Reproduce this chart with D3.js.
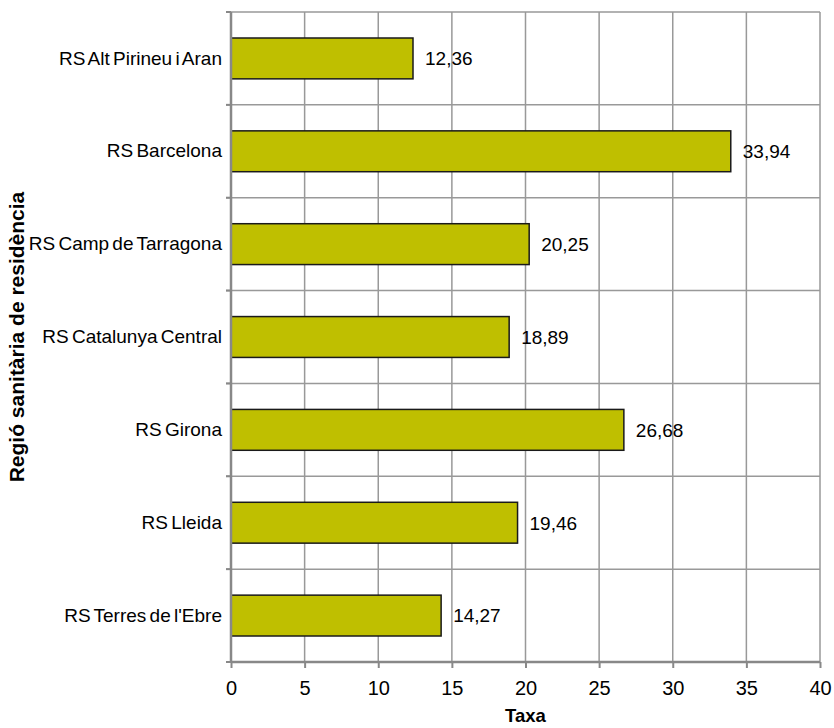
<!DOCTYPE html>
<html><head><meta charset="utf-8">
<script src="https://cdn.jsdelivr.net/npm/d3@7"></script>
<style>body{margin:0;background:#fff}svg{display:block}text{font-family:"Liberation Sans",Arial,sans-serif}</style>
</head><body>
<svg id="c" width="834" height="728"></svg>
<script>
const categories = ["RS Alt Pirineu i Aran","RS Barcelona","RS Camp de Tarragona","RS Catalunya Central","RS Girona","RS Lleida","RS Terres de l'Ebre"];
const values = [12.36,33.94,20.25,18.89,26.68,19.46,14.27];
const xTicks = [0,5,10,15,20,25,30,35,40];
const xTitle = "Taxa";
const yTitle = "Regió sanitària de residència";

const svg = d3.select("#c");
const m = {l:231, r:820, t:12, b:662};
const x = d3.scaleLinear().domain([0,40]).range([m.l,m.r]);
const y = d3.scaleBand().domain(categories).range([m.t,m.b]).paddingInner(0.56).paddingOuter(0.28);
const fmt = v => d3.format(".2f")(v).replace(".", ",");
const grid = "#999";
const ff = "Liberation Sans, Arial, sans-serif";

// vertical gridlines
svg.append("g").selectAll("line").data(xTicks.slice(1)).join("line")
  .attr("x1",d=>x(d)).attr("x2",d=>x(d)).attr("y1",m.t).attr("y2",m.b)
  .attr("stroke",grid).attr("stroke-width",1.5);
// horizontal gridlines at band boundaries
const bounds = d3.range(categories.length+1).map(i => m.t + i*(m.b-m.t)/categories.length);
svg.append("g").selectAll("line").data(bounds.slice(0,-1)).join("line")
  .attr("x1",m.l-5).attr("x2",m.r).attr("y1",d=>d).attr("y2",d=>d)
  .attr("stroke",grid).attr("stroke-width",1.5);

// bars
svg.append("g").selectAll("rect").data(values).join("rect")
  .attr("x",x(0)).attr("y",(d,i)=>y(categories[i]))
  .attr("width",d=>x(d)-x(0)).attr("height",y.bandwidth())
  .attr("fill","#bfbf00").attr("stroke","#1a1a1a").attr("stroke-width",1.5);

// value labels
svg.append("g").selectAll("text").data(values).join("text")
  .attr("x",d=>x(d)+12).attr("y",(d,i)=>y(categories[i])+y.bandwidth()/2)
  .attr("dy","0.36em").attr("font-size",19).attr("fill","#000").text(d=>fmt(d));

// x axis
const xa = svg.append("g").attr("transform",`translate(0,${m.b})`)
  .call(d3.axisBottom(x).tickValues(xTicks).tickSize(6).tickPadding(13).tickFormat(d=>d));
xa.select(".domain").attr("stroke","#888").attr("stroke-width",2.5).attr("d",`M${m.l},0H${m.r}`);
xa.selectAll(".tick line").attr("stroke","#888").attr("stroke-width",2);
xa.selectAll("text").attr("font-size",20).attr("fill","#000").attr("font-family",ff);

// y axis
const ya = svg.append("g").attr("transform",`translate(${m.l},0)`)
  .call(d3.axisLeft(y).tickSize(0).tickPadding(9));
ya.select(".domain").attr("stroke","#888").attr("stroke-width",2.5).attr("d",`M0,${m.t}V${m.b}`);
ya.selectAll("text").attr("font-size",19).attr("fill","#000").attr("word-spacing","-2px")
  .attr("font-family",ff);
// category ticks at boundaries
svg.append("g").selectAll("line").data(bounds).join("line")
  .attr("x1",m.l-5).attr("x2",m.l).attr("y1",d=>d).attr("y2",d=>d)
  .attr("stroke","#888").attr("stroke-width",2);

// titles
svg.append("text").attr("x",(m.l+m.r)/2).attr("y",722).attr("text-anchor","middle")
  .attr("font-size",18.5).attr("font-weight","bold").text(xTitle);
svg.append("text").attr("transform",`translate(24,${(m.t+m.b)/2}) rotate(-90)`).attr("text-anchor","middle")
  .attr("font-size",21).attr("font-weight","bold").text(yTitle);
</script>
</body></html>
